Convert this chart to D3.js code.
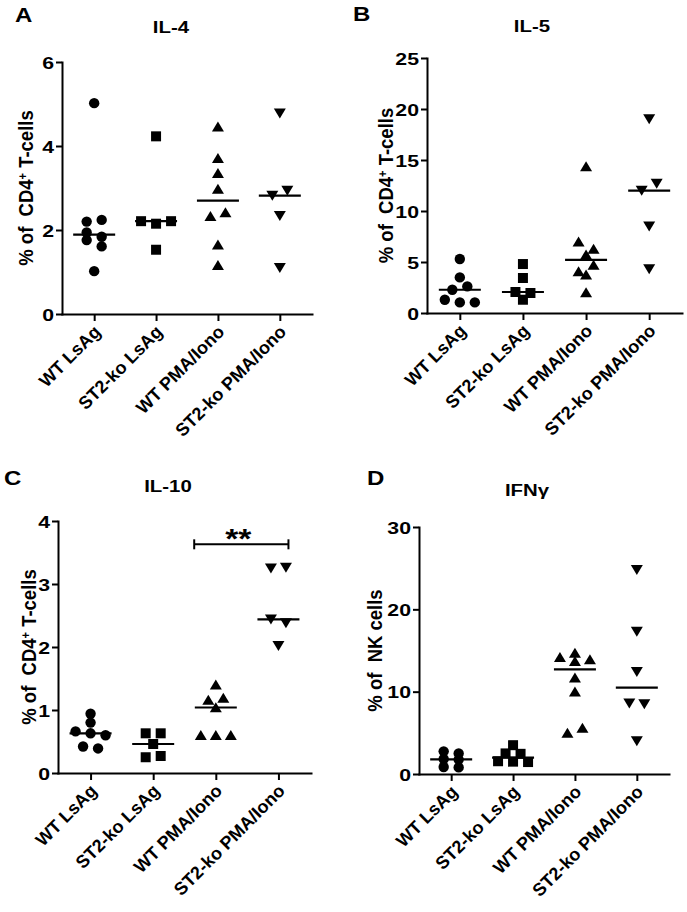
<!DOCTYPE html>
<html><head><meta charset="utf-8">
<script src="https://cdn.jsdelivr.net/npm/d3@7"></script>
<style>
body{margin:0;background:#fff;}
svg{display:block;}
text{font-family:"Liberation Sans",Arial,sans-serif;font-weight:bold;fill:#000;}
</style></head><body>
<svg id="chart" width="687" height="912"></svg>
<script>
// ---------- data ----------
const categories = ["WT LsAg", "ST2-ko LsAg", "WT PMA/Iono", "ST2-ko PMA/Iono"];
const shapes = ["circle", "square", "up", "down"];

// Panel A: IL-4 (% of CD4+ T-cells)
const il4WT      = [5.02, 2.20, 2.24, 1.94, 1.84, 1.76, 1.61, 1.02];
const il4ST2     = [4.23, 2.21, 2.15, 2.21, 1.53];
const il4WTPMA   = [4.46, 3.71, 3.35, 2.98, 2.33, 2.42, 1.65, 1.16];
const il4ST2PMA  = [4.78, 2.82, 2.94, 2.34, 1.10];
const il4Ticks   = [0, 2, 4, 6];

// Panel B: IL-5
const il5WT      = [5.29, 3.49, 2.28, 2.61, 1.30, 1.04, 1.04];
const il5ST2     = [4.80, 3.43, 2.06, 1.96, 1.30];
const il5WTPMA   = [14.37, 6.98, 6.28, 5.72, 4.08, 4.70, 3.75, 2.02];
const il5ST2PMA  = [19.02, 12.0, 12.7, 8.49, 4.31];
const il5Ticks   = [0, 5, 10, 15, 20, 25];

// Panel C: IL-10
const il10WT     = [0.94, 0.80, 0.66, 0.63, 0.60, 0.42, 0.39];
const il10ST2    = [0.63, 0.63, 0.46, 0.25, 0.27];
const il10WTPMA  = [1.40, 1.16, 1.19, 1.04, 0.60, 0.60, 0.60];
const il10ST2PMA = [3.25, 3.26, 2.44, 2.38, 2.02];
const il10Ticks  = [0, 1, 2, 3, 4];
const il10Sig    = {from: "WT PMA/Iono", to: "ST2-ko PMA/Iono", level: 3.63, label: "**"};

// Panel D: IFNγ (% of NK cells)
const ifnWT      = [2.75, 2.5, 1.82, 1.75, 0.85, 0.8];
const ifnST2     = [3.5, 2.5, 2.45, 1.55, 1.5, 1.45];
const ifnWTPMA   = [14.2, 14.7, 13.9, 13.7, 11.7, 10.0, 5.0, 5.6];
const ifnST2PMA  = [24.8, 17.3, 12.4, 8.6, 8.5, 4.0];
const ifnTicks   = [0, 10, 20, 30];

// ---------- layout ----------
const SX = 1.2; // horizontal text stretch seen in the figure
const panels = [
  {letter: "A", title: "IL-4", yLabel: "cd4", series: [il4WT, il4ST2, il4WTPMA, il4ST2PMA], ticks: il4Ticks,
   box: {x0: 62, x1: 312, yT: 62, yB: 314}, letterPos: [15, 22], titlePos: [171, 33], yLabelX: 33},
  {letter: "B", title: "IL-5", yLabel: "cd4", series: [il5WT, il5ST2, il5WTPMA, il5ST2PMA], ticks: il5Ticks,
   box: {x0: 427, x1: 682, yT: 58, yB: 313}, letterPos: [353, 21], titlePos: [532, 32], yLabelX: 393},
  {letter: "C", title: "IL-10", yLabel: "cd4", series: [il10WT, il10ST2, il10WTPMA, il10ST2PMA], ticks: il10Ticks,
   box: {x0: 58, x1: 311, yT: 521, yB: 773}, letterPos: [4, 485], titlePos: [168, 492], yLabelX: 36, sig: il10Sig},
  {letter: "D", title: "IFN\u03b3", yLabel: "nk", series: [ifnWT, ifnST2, ifnWTPMA, ifnST2PMA], ticks: ifnTicks,
   box: {x0: 419, x1: 669, yT: 527, yB: 774}, letterPos: [367, 485], titlePos: [527, 496], yLabelX: 382}
];

const svg = d3.select("#chart");

function markerPath(shape) {
  if (shape === "circle") return d3.symbol(d3.symbolCircle, Math.PI * 5.2 * 5.2)();
  if (shape === "square") return d3.symbol(d3.symbolSquare, 10 * 10)();
  if (shape === "up") return "M0,-5.2L6,4.8L-6,4.8Z";
  return "M0,5.2L6,-4.8L-6,-4.8Z";
}

// GraphPad-like row spreading of close values
function spread(values, y) {
  const items = values.map((v, i) => ({v, i, py: y(v)}));
  const sorted = items.slice().sort((a, b) => a.py - b.py || a.i - b.i);
  const rows = [];
  sorted.forEach(it => {
    const row = rows[rows.length - 1];
    if (row && it.py - row[0].py < 7.5) row.push(it); else rows.push([it]);
  });
  rows.forEach(row => {
    row.sort((a, b) => a.i - b.i);
    row.forEach((it, k) => { it.dx = (k - (row.length - 1) / 2) * 15; });
  });
  return items;
}

function stretchedText(g, x, y, txt, size, anchor, sx) {
  return g.append("text")
    .attr("transform", `translate(${x},${y}) scale(${sx || SX},1)`)
    .attr("text-anchor", anchor)
    .style("font-size", size + "px")
    .text(txt);
}

panels.forEach(p => {
  const g = svg.append("g");
  const b = p.box;
  const y = d3.scaleLinear().domain([0, d3.max(p.ticks)]).range([b.yB, b.yT]);
  const x = d3.scalePoint().domain(categories).range([b.x0, b.x1]).padding(0.52);

  // panel letter and title
  stretchedText(g, p.letterPos[0], p.letterPos[1], p.letter, 20, "start");
  stretchedText(g, p.titlePos[0], p.titlePos[1], p.title, 17, "middle");

  // y axis
  const ya = g.append("g").attr("transform", `translate(${b.x0},0)`)
    .call(d3.axisLeft(y).tickValues(p.ticks).tickSize(6).tickSizeOuter(0).tickFormat(d3.format("d")));
  ya.select(".domain").attr("stroke-width", 2).attr("stroke-linecap", "square");
  ya.selectAll(".tick line").attr("stroke-width", 2);
  ya.selectAll(".tick text")
    .attr("x", null).attr("dy", null)
    .attr("transform", `translate(-8,6) scale(1.25,1)`)
    .attr("text-anchor", "end")
    .style("font-size", "17px");
  ya.attr("font-family", null).attr("font-size", null);

  // x axis
  const xa = g.append("g").attr("transform", `translate(0,${b.yB})`)
    .call(d3.axisBottom(x).tickSize(7).tickSizeOuter(0));
  xa.select(".domain").attr("stroke-width", 2).attr("stroke-linecap", "square");
  xa.selectAll(".tick line").attr("stroke-width", 2);
  xa.selectAll(".tick text")
    .attr("y", null).attr("dy", null)
    .attr("transform", `translate(7,19) rotate(-45)`)
    .attr("text-anchor", "end")
    .style("font-size", "18px");
  xa.attr("font-family", null).attr("font-size", null);

  // y axis title
  const cy = (b.yT + b.yB) / 2;
  const yt = g.append("text")
    .attr("transform", `translate(${p.yLabelX},${cy}) scale(1.1,1) rotate(-90)`)
    .attr("text-anchor", "middle")
    .style("white-space", "pre")
    .style("font-size", "18.5px");
  if (p.yLabel === "cd4") {
    yt.append("tspan").text("% of  CD4");
    yt.append("tspan").attr("baseline-shift", "super").style("font-size", "11px").text("+");
    yt.append("tspan").text(" T-cells");
  } else {
    yt.text("% of  NK cells");
  }

  // points and medians
  p.series.forEach((vals, ci) => {
    const cx = x(categories[ci]);
    const pts = spread(vals, y);
    g.append("g").selectAll("path").data(pts).join("path")
      .attr("d", markerPath(shapes[ci]))
      .attr("transform", d => `translate(${cx + d.dx},${d.py})`)
      .attr("fill", "#000");
    const m = d3.median(vals);
    g.append("line")
      .attr("x1", cx - 21).attr("x2", cx + 21)
      .attr("y1", y(m)).attr("y2", y(m))
      .attr("stroke", "#000").attr("stroke-width", 2.2);
  });

  // significance bracket
  if (p.sig) {
    const step = x.step();
    const xl = x(p.sig.from) - 0.345 * step;
    const xr = x(p.sig.to) + 0.16 * step;
    const yy = y(p.sig.level);
    const br = g.append("g").attr("stroke", "#000").attr("stroke-width", 2);
    br.append("line").attr("x1", xl).attr("x2", xr).attr("y1", yy).attr("y2", yy);
    br.append("line").attr("x1", xl).attr("x2", xl).attr("y1", yy - 5).attr("y2", yy + 5);
    br.append("line").attr("x1", xr).attr("x2", xr).attr("y1", yy - 5).attr("y2", yy + 5);
    stretchedText(g, (xl + xr) / 2 - 3, yy + 4, p.sig.label, 28, "middle");
  }
});
</script>
</body></html>
